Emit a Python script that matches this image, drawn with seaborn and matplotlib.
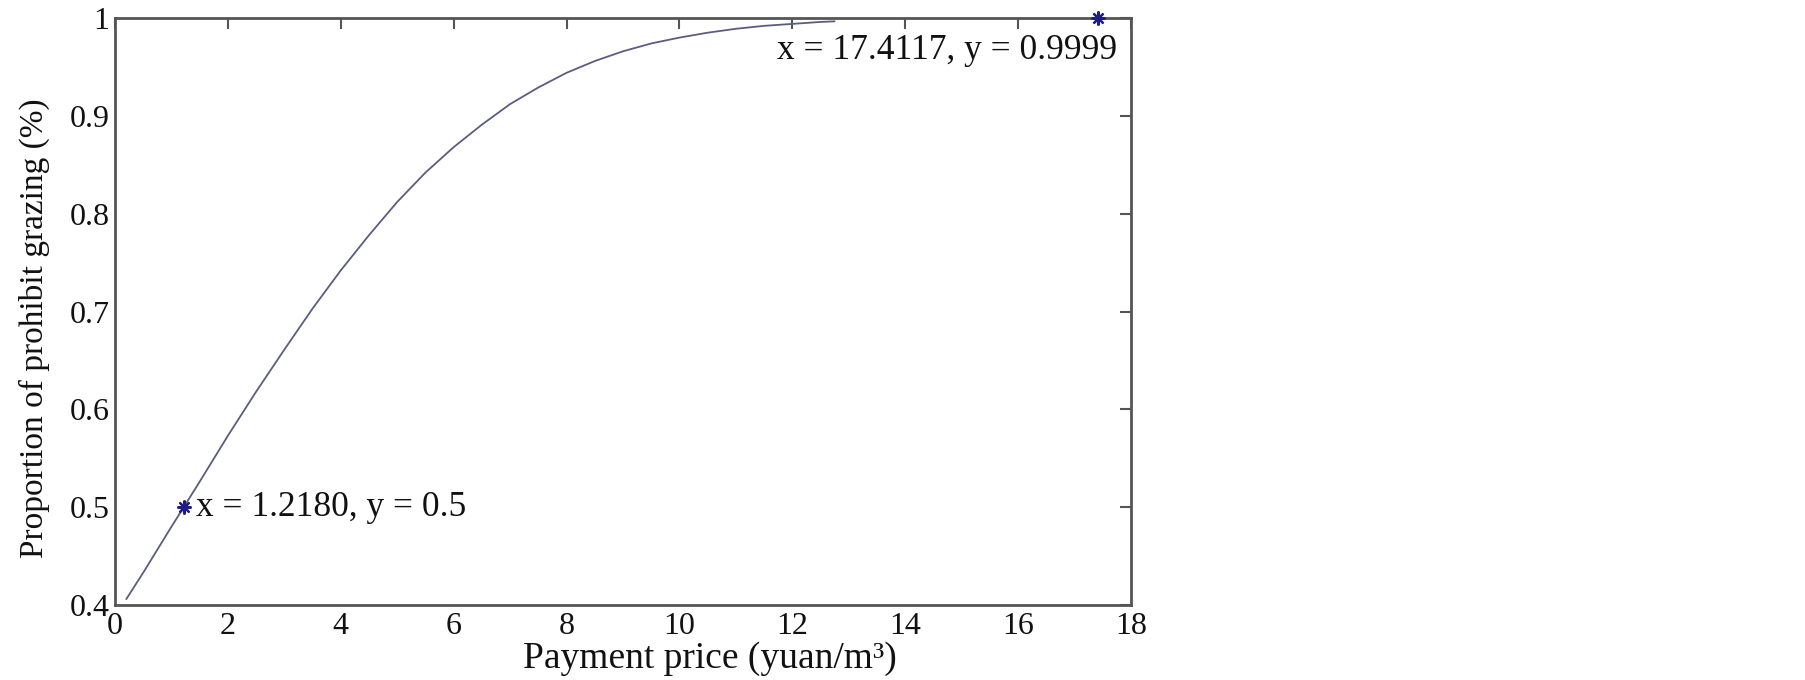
import pandas as pd
import matplotlib
matplotlib.use("Agg")
import matplotlib.pyplot as plt
import seaborn as sns

# values
price = [0.2, 0.5, 1.0, 1.218, 1.5, 2.0, 2.5, 3.0, 3.5, 4.0, 4.5, 5.0, 5.5,
         6.0, 6.5, 7.0, 7.5, 8.0, 8.5, 9.0, 9.5, 10.0, 10.5, 11.0, 11.5,
         12.0, 12.5, 12.75]
proportion = [0.406, 0.433, 0.480, 0.500, 0.526, 0.573, 0.618, 0.661, 0.703,
              0.742, 0.778, 0.812, 0.842, 0.868, 0.891, 0.912, 0.929, 0.944,
              0.956, 0.966, 0.974, 0.980, 0.985, 0.989, 0.992, 0.994, 0.996,
              0.9966]

marked_x = [1.2180, 17.4117]
marked_y = [0.5, 0.9999]
marked_text = ["x = 1.2180, y = 0.5", "x = 17.4117, y = 0.9999"]

xticks = list(range(0, 19, 2))
yticks = [0.4, 0.5, 0.6, 0.7, 0.8, 0.9, 1.0]
ytick_labels = ["0.4", "0.5", "0.6", "0.7", "0.8", "0.9", "1"]

df = pd.DataFrame({"price": price, "proportion": proportion})

sns.set_theme(style="white")
plt.rcParams["font.family"] = ["Liberation Serif", "DejaVu Serif"]

fig = plt.figure(figsize=(18.05, 6.8), dpi=100)
ax = fig.add_axes([0.0637, 0.1103, 0.5629, 0.8632])

sns.lineplot(data=df, x="price", y="proportion", ax=ax,
             color="#5c5c82", linewidth=1.3)
# matlab style asterisk markers
ax.plot(marked_x, marked_y, linestyle="none", marker=(8, 2, 0), markersize=10,
        markeredgewidth=1.6, color="#1e1e80", clip_on=False, zorder=5)

ax.text(1.43, 0.5, marked_text[0], fontsize=25.5, va="center", ha="left",
        color="#111111")
ax.text(11.73, 0.967, marked_text[1], fontsize=25.5, va="center", ha="left",
        color="#111111")

ax.set_xlim(0, 18)
ax.set_ylim(0.4, 1.0)
ax.set_xticks(xticks)
ax.set_xticklabels([str(t) for t in xticks])
ax.set_yticks(yticks)
ax.set_yticklabels(ytick_labels)

ax.tick_params(direction="in", length=8, width=1.5, color="#555555",
               top=True, right=True, labelsize=23, labelcolor="#111111")
ax.tick_params(axis="x", pad=5)
ax.tick_params(axis="y", pad=4)
for s in ax.spines.values():
    s.set_color("#555555")
    s.set_linewidth(2)

ax.set_xlabel("Payment price (yuan/m³)", fontsize=27, color="#111111")
ax.xaxis.set_label_coords(0.586, -0.092)
ax.xaxis.label.set_va("center")
ax.set_ylabel("Proportion of prohibit grazing (%)", fontsize=24,
              color="#111111")
ax.yaxis.set_label_coords(-0.079, 0.472)
ax.yaxis.label.set_va("center")

fig.savefig("out.png", dpi=100, facecolor="white")
